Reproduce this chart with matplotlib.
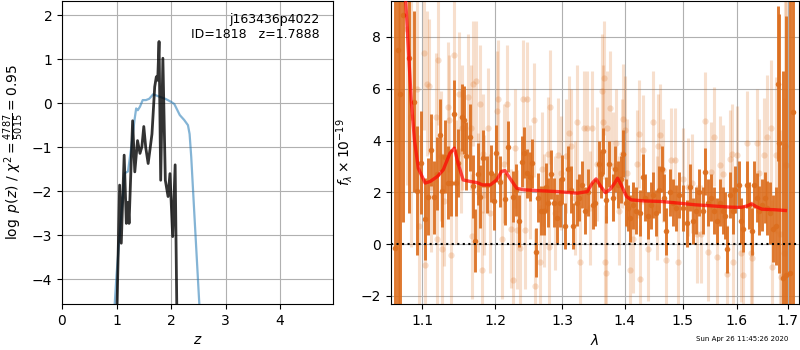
import matplotlib
matplotlib.use('Agg')
import matplotlib.pyplot as plt
from matplotlib.ticker import NullLocator

# --- left panel: log p(z)
z_prior = [0.965, 1.0, 1.06, 1.15, 1.21, 1.27, 1.33, 1.36, 1.39, 1.43, 1.48, 1.54, 1.6, 1.67,
           1.72, 1.78, 1.85, 1.91, 2.0, 2.06, 2.16, 2.24, 2.31, 2.34, 2.37, 2.43, 2.52]
lnp_prior = [-4.6, -3.9, -2.96, -1.59, -1.55, -1.0, -0.38, -0.12, -0.16, -0.08, 0.07, 0.07, 0.1, 0.2,
             0.18, 0.15, 0.12, 0.09, 0.03, -0.02, -0.27, -0.38, -0.5, -0.7, -1.22, -2.58, -4.6]

z_fit = [1.01, 1.057, 1.087, 1.14, 1.18, 1.21, 1.23, 1.295, 1.335, 1.385, 1.43, 1.465, 1.50, 1.535,
         1.58, 1.62, 1.65, 1.70, 1.73, 1.755, 1.78, 1.81, 1.85, 1.895, 1.945, 1.98, 2.03, 2.075, 2.105]
lnp_fit = [-4.6, -1.86, -3.18, -1.18, -2.73, -2.25, -2.73, -0.4, -1.56, -0.85, -1.14, -0.99, -0.53, -1.0,
           -1.37, -0.99, -0.7, 0.37, 0.6, 0.52, 1.4, -1.75, 1.02, -1.75, -2.12, -1.6, -3.03, -1.4, -4.6]

# --- right panel: spectrum (dark = first grism, light = second)
lam_d = [1.065, 1.069, 1.072, 1.075, 1.083, 1.089, 1.093, 1.099, 1.104, 1.108, 1.112, 1.116, 1.119, 1.123,
         1.127, 1.131, 1.134, 1.138, 1.142, 1.145, 1.148, 1.154, 1.156, 1.159, 1.164, 1.168, 1.172, 1.175,
         1.179, 1.183, 1.188, 1.194, 1.198, 1.201, 1.207, 1.214, 1.219, 1.226, 1.230, 1.235, 1.239, 1.242,
         1.246, 1.250, 1.254, 1.259, 1.263, 1.267, 1.271, 1.275, 1.278, 1.282, 1.287, 1.292, 1.296, 1.300,
         1.304, 1.309, 1.313, 1.317, 1.322, 1.326, 1.330, 1.335, 1.340, 1.348, 1.351, 1.357, 1.361, 1.365,
         1.369, 1.374, 1.380, 1.384, 1.388, 1.393, 1.397, 1.402, 1.405, 1.409, 1.414, 1.419, 1.426, 1.430,
         1.434, 1.439, 1.444, 1.448, 1.453, 1.458, 1.463, 1.467, 1.471, 1.477, 1.482, 1.488, 1.494, 1.501,
         1.507, 1.513, 1.519, 1.524, 1.530, 1.536, 1.540, 1.546, 1.551, 1.557, 1.562, 1.568, 1.573, 1.577,
         1.581, 1.587, 1.592, 1.596, 1.603, 1.607, 1.612, 1.619, 1.624, 1.628, 1.633, 1.638, 1.643, 1.648,
         1.654, 1.659, 1.664, 1.671, 1.676, 1.681, 1.683, 1.691, 1.697, 1.705, 1.710]
flux_d = [-0.15, 7.5, 5.8, 8.85, 7.2, 5.5, 2.07, 3.15, 0.97, 1.84, 3.64, 1.81, 2.72, 4.22,
          2.07, 3.38, 2.38, 2.37, 5.03, 2.38, 3.13, 4.9, 4.8, 3.41, 4.13, 2.23, 0.14, 2.72,
          1.84, 3.32, 2.29, 2.74, 1.65, 3.51, 2.42, 1.74, 3.77, 1.84, 2.1, 0.9, 3.19, 3.54,
          2.74, 2.61, 3.13, -0.31, 1.8, 1.3, 1.3, 2.2, 1.6, 2.7, 1.6, 1.0, 1.6, 2.5,
          0.7, 2.9, 2.1, 0.7, 1.6, 1.8, 2.3, 1.3, 2.0, 1.5, 1.6, 3.1, 2.7, 3.6,
          1.7, 3.1, 1.8, 2.9, 2.3, 2.5, 3.5, 1.6, 1.4, 1.0, 1.5, 1.3, 1.2, 2.6,
          1.8, 1.1, 1.5, 1.9, 1.2, 2.1, 2.9, 1.8, 0.5, 2.0, 1.6, 1.4, 1.9, 1.4,
          0.8, 2.2, 0.9, 1.3, 2.0, 1.3, 2.8, 1.6, 1.8, 1.3, 0.9, 1.6, 1.3, 1.1,
          -0.2, 1.9, 1.3, 2.1, 2.3, 0.9, 0.6, 2.3, 1.5, 0.5, 2.3, 1.8, 1.3, 1.5,
          1.8, 1.4, 1.2, 0.6, 0.7, 6.2, 3.9, -1.3, -1.2, -1.1, 5.1]
err_d = [12, 10, 9, 8, 6, 3.5, 2.5, 2.0, 1.6, 1.5, 1.4, 1.4, 1.4, 1.4,
         1.4, 1.4, 1.4, 1.3, 1.3, 1.3, 1.3, 1.3, 1.3, 1.3, 1.3, 1.2, 1.2, 1.2,
         1.2, 1.1, 1.1, 1.1, 1.1, 1.1, 1.0, 1.0, 1.0, 1.0, 1.0, 1.0, 1.0, 1.0,
         0.95, 0.95, 0.95, 0.95, 0.95, 0.95, 0.95, 0.95, 0.95, 0.95, 0.95, 0.95, 0.95, 0.95,
         0.9, 0.9, 0.9, 0.9, 0.9, 0.9, 0.9, 0.9, 0.9, 0.9, 0.9, 0.9, 0.9, 0.9,
         0.9, 0.9, 0.9, 0.9, 0.9, 0.9, 0.9, 0.9, 0.9, 0.9, 0.9, 0.9, 0.9, 0.9,
         0.9, 0.9, 0.9, 0.9, 0.9, 0.9, 0.9, 0.9, 0.9, 0.9, 0.9, 0.9, 0.9, 0.9,
         0.9, 0.9, 0.9, 0.9, 0.9, 0.9, 0.9, 0.9, 0.9, 0.9, 0.9, 0.9, 0.9, 0.9,
         0.9, 0.9, 0.9, 0.9, 0.9, 0.9, 0.9, 0.9, 0.9, 0.9, 0.9, 0.95, 0.95, 1.0,
         1.0, 1.05, 1.2, 1.3, 1.5, 3.0, 5.0, 8.0, 10, 12, 15]

lam_l = [1.081, 1.086, 1.093, 1.096, 1.103, 1.104, 1.106, 1.109, 1.112, 1.118, 1.119, 1.121, 1.125, 1.126,
         1.129, 1.134, 1.136, 1.138, 1.142, 1.145, 1.150, 1.152, 1.154, 1.162, 1.166, 1.167, 1.169, 1.173,
         1.175, 1.179, 1.181, 1.182, 1.184, 1.190, 1.192,
         1.202, 1.204, 1.209, 1.212, 1.217, 1.222, 1.226, 1.228, 1.231, 1.236, 1.241, 1.243, 1.246, 1.251,
         1.256, 1.258, 1.265, 1.268, 1.272, 1.278, 1.280, 1.281, 1.288, 1.293, 1.298, 1.306, 1.310, 1.314,
         1.319, 1.323, 1.327, 1.333, 1.338, 1.343,
         1.346, 1.354, 1.362, 1.364, 1.366, 1.367, 1.369, 1.371, 1.376, 1.381, 1.385, 1.391, 1.395, 1.397,
         1.400, 1.403, 1.409, 1.414, 1.420, 1.424, 1.426, 1.431, 1.440, 1.448, 1.454, 1.457, 1.460, 1.466,
         1.470, 1.480, 1.486, 1.492, 1.501, 1.510,
         1.516, 1.525, 1.533, 1.540, 1.546, 1.551, 1.557, 1.562, 1.568, 1.574, 1.581, 1.586, 1.590, 1.593,
         1.601, 1.607, 1.612, 1.620, 1.626, 1.628, 1.639, 1.643, 1.652, 1.659, 1.666, 1.668, 1.676, 1.684,
         1.687, 1.692, 1.695, 1.696]
flux_l = [8.3, 4.9, 6.0, 0.7, 7.4, -0.8, 6.2, 6.1, 2.2, 4.9, 0.2, 7.1, 3.4, -0.2,
          1.65, 5.3, 4.8, -0.4, 7.3, 2.4, 5.8, 3.6, 4.5, 5.7, 4.5, 0.3, 6.2, 6.3,
          2.0, 5.4, -1.0, 3.5, 1.9, 4.5, 1.2,
          5.15, 5.6, 0.2, 3.1, 5.4, 0.6, -1.4, 3.7, 0.55, -0.15, 5.6, 0.55, 5.6, 2.4,
          4.8, -1.6, -0.7, 2.9, 1.3, 3.5, -0.1, 5.3, 1.2, 3.45, 2.75, 3.4, 4.3, 3.8,
          1.8, 4.7, -0.7, 4.5, 4.5, 1.4,
          4.5, 3.1, 5.9, 4.7, 6.4, -0.7, -1.1, 4.5, 5.25, 3.0, 3.9, 1.3, 3.5, 4.85,
          4.4, 2.75, -1.0, 0.2, 3.1, 4.25, -1.35, 3.65, -0.2, 4.7, 1.4, 3.8, 4.2, 2.85,
          -0.6, 3.25, 3.25, -0.7, 2.5, 2.2,
          2.35, 0.4, 0.4, 4.75, -0.3, 2.8, 4.15, -0.5, 3.05, 2.7, -1.15, 3.3, 3.5, -0.7,
          3.45, -0.35, -1.2, 3.9, -0.35, -0.55, 3.9, 2.75, 3.45, 4.15, 4.5, -0.9, 3.45, 0.4,
          -1.25, -0.35, 3.8, 3.05]
err_l = [6.0, 5.0, 4.0, 3.5, 3.0, 3.0, 2.8, 2.6, 2.5, 2.5, 2.5, 2.5, 2.5, 2.5,
         2.5, 2.5, 2.5, 2.4, 2.4, 2.4, 2.4, 2.4, 2.4, 2.4, 2.4, 2.4, 2.4, 2.3,
         2.3, 2.3, 2.3, 2.3, 2.3, 2.3, 2.3,
         2.3, 2.3, 2.3, 2.3, 2.3, 2.3, 2.3, 2.3, 2.3, 2.3, 2.3, 2.3, 2.2, 2.2,
         2.2, 2.2, 2.2, 2.2, 2.2, 2.2, 2.2, 2.2, 2.2, 2.2, 2.2, 2.2, 2.2, 2.2,
         2.2, 2.2, 2.2, 2.2, 2.2, 2.2,
         2.2, 2.2, 2.2, 2.2, 2.2, 2.2, 2.2, 2.2, 2.2, 2.1, 2.1, 2.1, 2.1, 2.1,
         2.1, 2.1, 2.1, 2.1, 2.1, 2.1, 2.1, 2.1, 2.0, 2.0, 2.0, 2.0, 2.0, 2.0,
         2.0, 2.0, 2.0, 2.0, 2.0, 1.9,
         1.9, 1.9, 1.9, 1.9, 1.9, 1.9, 1.9, 1.9, 1.9, 1.9, 1.9, 1.9, 1.9, 1.9,
         1.9, 1.9, 1.9, 2.0, 2.0, 2.0, 2.1, 2.1, 2.2, 2.4, 2.6, 2.6, 3.0, 4.0,
         5.0, 6.0, 7.0, 8.0]

lam_model = [1.0787, 1.0858, 1.090, 1.095, 1.104, 1.1105, 1.120, 1.128, 1.137, 1.143, 1.148, 1.155,
             1.165, 1.174, 1.182, 1.193, 1.202, 1.209, 1.214, 1.221, 1.231, 1.241, 1.261, 1.292,
             1.323, 1.339, 1.347, 1.353, 1.359, 1.368, 1.376, 1.384, 1.388, 1.394, 1.403, 1.411,
             1.433, 1.461, 1.495, 1.523, 1.552, 1.587, 1.608, 1.620, 1.628, 1.637, 1.648, 1.674, 1.695]
flux_model = [9.4, 5.57, 4.03, 2.93, 2.36, 2.42, 2.61, 2.87, 3.51, 3.71, 3.13, 2.48,
              2.42, 2.38, 2.29, 2.29, 2.48, 2.81, 2.84, 2.55, 2.16, 2.1, 2.07, 2.03,
              1.97, 2.03, 2.36, 2.52, 2.29, 1.99, 2.12, 2.38, 2.55, 2.29, 1.84, 1.71,
              1.67, 1.65, 1.58, 1.52, 1.48, 1.43, 1.42, 1.48, 1.56, 1.45, 1.35, 1.33, 1.3]

lam_ticks = [1.1, 1.2, 1.3, 1.4, 1.5, 1.6, 1.7]

fig = plt.figure(figsize=(8, 3.5), dpi=100)
ax1 = fig.add_axes([62 / 800, 1 - 304 / 350, 271 / 800, 303 / 350])
ax2 = fig.add_axes([391 / 800, 1 - 304 / 350, 408 / 800, 303 / 350])

ax1.plot(z_prior, lnp_prior, color='C0', alpha=0.55, lw=1.6)
ax1.plot(z_fit, lnp_fit, color='k', alpha=0.8, lw=2)
ax1.set_xlim(0, 4.97)
ax1.set_ylim(-4.56, 2.32)
ax1.set_xticks([0, 1, 2, 3, 4])
ax1.set_yticks([-4, -3, -2, -1, 0, 1, 2])
ax1.grid(True)
ax1.set_xlabel(r'$z$')
ax1.set_ylabel(r'$\log\ p(z)$' + ' / ' + r'$\chi^2=\frac{4787}{5015}=0.95$')
ax1.text(0.95, 0.96, 'j163436p4022\nID=1818   z=1.7888', ha='right', va='top',
         transform=ax1.transAxes, fontsize=9)

col = '#dc6e1e'
ax2.errorbar(lam_l, flux_l, yerr=err_l, fmt='o', color=col, alpha=0.22, ms=4.5,
             elinewidth=2.2, capsize=0, mec='none')
ax2.errorbar(lam_d, flux_d, yerr=err_d, fmt='o', color=col, alpha=0.92, ms=4.0,
             elinewidth=2.1, capsize=0, mec='none')
ax2.plot(lam_model, flux_model, color='r', alpha=0.7, lw=2.4, zorder=10)
ax2.axhline(0, color='k', linestyle=':', lw=1.5, zorder=11)

ax2.set_xscale('log')
ax2.set_xlim(1.060, 1.7226)
ax2.set_ylim(-2.31, 9.39)
ax2.set_xticks(lam_ticks)
ax2.set_xticklabels([str(t) for t in lam_ticks])
ax2.xaxis.set_minor_locator(NullLocator())
ax2.set_yticks([-2, 0, 2, 4, 6, 8])
ax2.grid(True)
ax2.set_xlabel(r'$\lambda$')
ax2.set_ylabel(r'$f_\lambda\times10^{-19}$')

fig.text(0.985, 0.031, 'Sun Apr 26 11:45:26 2020', ha='right', va='center', fontsize=5)

fig.savefig('out.png', dpi=100)
